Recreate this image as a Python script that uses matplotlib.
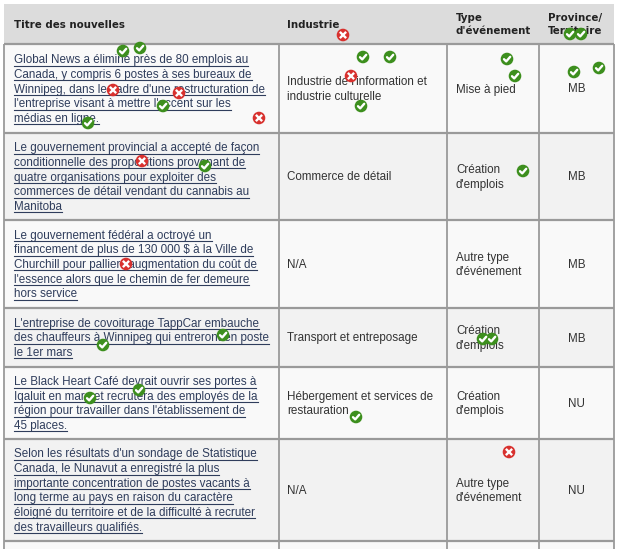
#!/usr/bin/env python3
"""Recreate the news table with the check / cross markers on top."""
import matplotlib
matplotlib.use("Agg")
import matplotlib.pyplot as plt
from matplotlib.patches import Rectangle, Circle

# table content
col_headers = ["Titre des nouvelles", "Industrie", "Type\nd'événement", "Province/\nTerritoire"]
titles = [
    ["Global News a éliminé près de 80 emplois au",
     "Canada, y compris 6 postes à ses bureaux de",
     "Winnipeg, dans le cadre d'une restructuration de",
     "l'entreprise visant à mettre l'accent sur les",
     "médias en ligne."],
    ["Le gouvernement provincial a accepté de façon",
     "conditionnelle des propositions provenant de",
     "quatre organisations pour exploiter des",
     "commerces de détail vendant du cannabis au",
     "Manitoba"],
    ["Le gouvernement fédéral a octroyé un",
     "financement de plus de 130 000 $ à la Ville de",
     "Churchill pour pallier l'augmentation du coût de",
     "l'essence alors que le chemin de fer demeure",
     "hors service"],
    ["L'entreprise de covoiturage TappCar embauche",
     "des chauffeurs à Winnipeg qui entreront en poste",
     "le 1er mars"],
    ["Le Black Heart Café devrait ouvrir ses portes à",
     "Iqaluit en mars et recrutera des employés de la",
     "région pour travailler dans l'établissement de",
     "45 places."],
    ["Selon les résultats d'un sondage de Statistique",
     "Canada, le Nunavut a enregistré la plus",
     "importante concentration de postes vacants à",
     "long terme au pays en raison du caractère",
     "éloigné du territoire et de la difficulté à recruter",
     "des travailleurs qualifiés."],
]
industries = [
    ["Industrie de l'information et", "industrie culturelle"],
    ["Commerce de détail"],
    ["N/A"],
    ["Transport et entreposage"],
    ["Hébergement et services de", "restauration"],
    ["N/A"],
]
event_types = [
    ["Mise à pied"],
    ["Création", "d'emplois"],
    ["Autre type", "d'événement"],
    ["Création", "d'emplois"],
    ["Création", "d'emplois"],
    ["Autre type", "d'événement"],
]
provinces = ["MB", "MB", "MB", "MB", "NU", "NU"]

# overlay markers (image pixels)
check_marks = [(123, 51), (140, 48), (163, 106), (88, 123),
               (363, 57), (390, 57), (507, 59), (515, 76), (361, 106),
               (574, 72), (599, 68), (570, 34), (581, 34),
               (205, 166), (523, 171),
               (103, 345), (223, 335), (90, 398), (139, 390),
               (483, 339), (492, 339), (356, 417)]
cross_marks = [(113, 90), (179, 93), (259, 118), (343, 35), (351, 76),
               (142, 161), (126, 264), (509, 452)]

W, H = 621, 549
col_edges = [4, 279, 447, 539, 614]
row_edges = [44, 133, 220, 308, 367, 439, 541]
header_top = 4
line_h = 14.6
body_font = "Liberation Sans"
body_size = 8.35
link_color = "#2f3d5c"
text_color = "#333333"
grid_color = "#9a9a9a"

fig = plt.figure(figsize=(W / 100, H / 100), dpi=100)
ax = fig.add_axes([0, 0, 1, 1])
ax.set_xlim(0, W)
ax.set_ylim(H, 0)
ax.axis("off")

# backgrounds
ax.add_patch(Rectangle((col_edges[0], header_top), col_edges[-1] - col_edges[0],
                       row_edges[0] - header_top, facecolor="#dcdcdc", edgecolor="none"))
bottoms = row_edges[1:] + [H + 5]
tops = row_edges
for i, (t, b) in enumerate(zip(tops, bottoms)):
    fc = "#f2f2f2" if i % 2 == 1 else "#f9f9f9"
    ax.add_patch(Rectangle((col_edges[0], t), col_edges[-1] - col_edges[0], b - t,
                           facecolor=fc, edgecolor="none"))

# grid lines
for y in row_edges:
    ax.plot([col_edges[0], col_edges[-1]], [y, y], color=grid_color, lw=1.6, solid_capstyle="butt")
for x in col_edges:
    ax.plot([x, x], [row_edges[0], H], color=grid_color, lw=1.3, solid_capstyle="butt")

# header text
hdr_x = [14, 287, 456, 548]
for x, txt in zip(hdr_x, col_headers):
    ax.text(x, 24.5, txt, fontsize=7.4, fontweight="bold", family="DejaVu Sans",
            color="#222222", ha="left", va="center", linespacing=1.3)

fig.canvas.draw()
renderer = fig.canvas.get_renderer()
inv = ax.transData.inverted()


def block(lines, x, top, bottom, ha="left", color=text_color, underline=False):
    n = len(lines)
    mid = (top + bottom) / 2
    for k, s in enumerate(lines):
        yb = mid - (n - 1) / 2 * line_h + k * line_h + 4
        t = ax.text(x, yb, s, fontsize=body_size, family=body_font, color=color,
                    ha=ha, va="baseline")
        if underline:
            bb = t.get_window_extent(renderer)
            x0 = inv.transform((bb.x0, 0))[0]
            x1 = inv.transform((bb.x1, 0))[0]
            ax.plot([x0, x1], [yb + 2.4, yb + 2.4], color=color, lw=0.8)


for i in range(len(titles)):
    t, b = row_edges[i], row_edges[i + 1]
    block(titles[i], 14, t, b, color=link_color, underline=True)
    block(industries[i], 287, t, b)
    block(event_types[i], 456, t, b)
    block([provinces[i]], (col_edges[3] + col_edges[4]) / 2, t, b, ha="center")

# markers
r = 6.3
for (x, y) in check_marks:
    ax.add_patch(Circle((x, y), r, facecolor="#3d8f1e", edgecolor="none", zorder=5))
    ax.plot([x - 3, x - 0.8, x + 3.2], [y + 0.2, y + 2.4, y - 2.2], color="white",
            lw=1.7, solid_capstyle="round", zorder=6)
for (x, y) in cross_marks:
    ax.add_patch(Circle((x, y), r, facecolor="#d8312e", edgecolor="none", zorder=5))
    ax.plot([x - 2.3, x + 2.3], [y - 2.3, y + 2.3], color="white", lw=1.7, zorder=6)
    ax.plot([x - 2.3, x + 2.3], [y + 2.3, y - 2.3], color="white", lw=1.7, zorder=6)

fig.savefig("out.png", dpi=100)
